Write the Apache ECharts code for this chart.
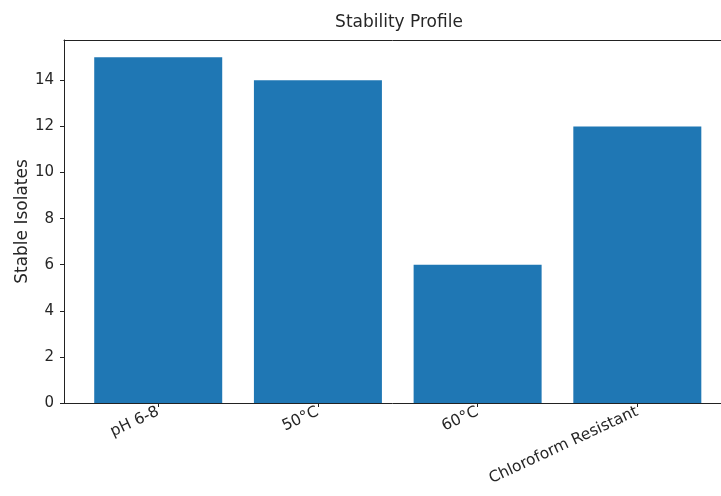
<!DOCTYPE html>
<html>
<head>
<meta charset="utf-8">
<script src="https://cdn.jsdelivr.net/npm/echarts@6/dist/echarts.min.js"></script>
<style>
  html, body { margin: 0; padding: 0; background: #fff; }
  #chart { width: 721px; height: 496px; }
</style>
</head>
<body>
<div id="chart"></div>
<script>
// data
const categories = ['pH 6-8', '50°C', '60°C', 'Chloroform Resistant'];
const stableIsolates = [15, 14, 6, 12];
const yTicks = [0, 2, 4, 6, 8, 10, 12, 14];

const chart = echarts.init(document.getElementById('chart'));

// bars sit on a numeric x axis (index), like matplotlib does
const catIndex = categories.map((c, i) => i);
const seriesData = stableIsolates.map((v, i) => [i, v]);

const textFont = 'DejaVu Sans';
const inkColor = '#262626';

chart.setOption({
  animation: false,
  textStyle: { fontFamily: textFont },
  title: {
    text: 'Stability Profile',
    left: 394,
    top: 9,
    textAlign: 'center',
    textStyle: { fontFamily: textFont, fontSize: 17, fontWeight: 'normal', color: inkColor }
  },
  grid: {
    left: 64,
    top: 40,
    right: 0,
    height: 363
  },
  xAxis: [{
    type: 'value',
    min: -0.59,
    max: 3.524,   // the axes run past the right edge of the picture
    splitLine: { show: false },
    axisLine: { show: true, onZero: false, lineStyle: { color: '#222' } },
    axisTick: {
      show: true,
      length: 4,
      customValues: catIndex,
      lineStyle: { color: '#222' }
    },
    axisLabel: {
      customValues: catIndex,
      rotate: 25,
      margin: 8,
      fontFamily: textFont,
      fontSize: 15.5,
      color: inkColor,
      formatter: v => categories[Math.round(v)]
    }
  }, {
    // top spine
    type: 'value',
    position: 'top',
    min: -0.59,
    max: 3.524,
    splitLine: { show: false },
    axisLine: { show: true, onZero: false, lineStyle: { color: '#222' } },
    axisTick: { show: false },
    axisLabel: { show: false }
  }],
  yAxis: {
    type: 'value',
    min: 0,
    max: 15.75,
    name: 'Stable Isolates',
    nameLocation: 'middle',
    nameGap: 33,
    nameMoveOverlap: false,
    nameTextStyle: { fontFamily: textFont, fontSize: 17, color: inkColor },
    splitLine: { show: false },
    axisLine: { show: true, onZero: false, lineStyle: { color: '#222' } },
    axisTick: {
      show: true,
      length: 4,
      customValues: yTicks,
      lineStyle: { color: '#222' }
    },
    axisLabel: {
      customValues: yTicks,
      margin: 10,
      fontFamily: textFont,
      fontSize: 15,
      color: inkColor
    }
  },
  series: [{
    type: 'bar',
    data: seriesData,
    barWidth: 128,
    itemStyle: { color: '#1f77b4' }
  }]
});
</script>
</body>
</html>
